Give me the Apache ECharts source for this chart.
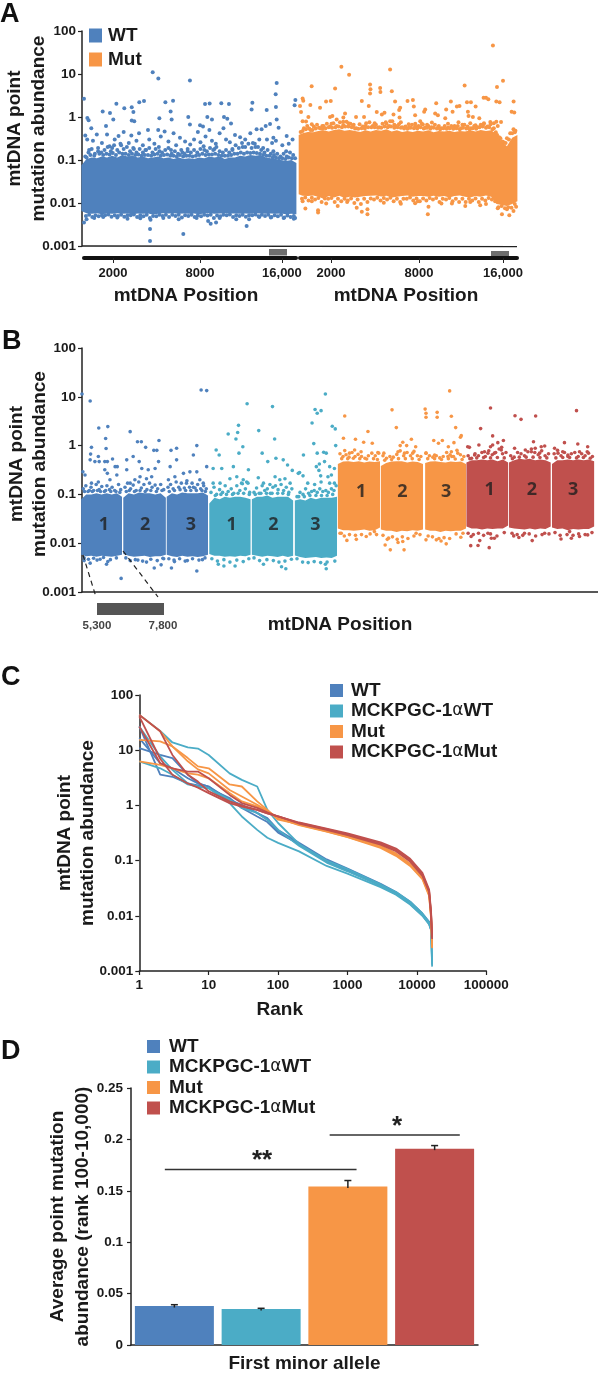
<!DOCTYPE html>
<html><head><meta charset="utf-8">
<style>html,body{margin:0;padding:0;background:#fff}#c{width:598px;height:1374px}</style>
<script src="https://cdn.jsdelivr.net/npm/echarts@6/dist/echarts.min.js"></script>
</head><body><div id="c"></div>
<script>
const BLUE='#4f81bd',CYAN='#4bacc6',ORANGE='#f79646',RED='#c0504d',INK='#1a1a1a';
const WT='WT',MUT='Mut',PWT='MCKPGC-1αWT',PMUT='MCKPGC-1αMut';

// ---- Panel A: dense band envelope (position in kb, abundance)
const aPos=[-.2,.2,.6,1,1.4,1.8,2.2,2.6,3,3.4,3.8,4.2,4.6,5,5.4,5.8,6.2,6.6,7,7.4,7.8,8.2,8.6,9,9.4,9.8,10.2,10.6,11,11.4,11.8,12.2,12.6,13,13.4,13.8,14.2,14.6,15,15.4,15.8,16.2,16.6];
const aPosMut=[-.1,.2,.6,1,1.4,1.8,2.2,2.6,3,3.4,3.8,4.2,4.6,5,5.4,5.8,6.2,6.6,7,7.4,7.8,8.2,8.6,9,9.4,9.8,10.2,10.6,11,11.4,11.8,12.2,12.6,13,13.4,13.8,14.2,14.6,15,15.4,15.8,16.2,16.6];
const aWtTop=[.075,.105,.115,.11,.12,.115,.125,.115,.13,.12,.125,.115,.12,.11,.115,.12,.11,.115,.105,.115,.105,.11,.105,.115,.11,.12,.115,.12,.105,.115,.115,.125,.12,.13,.125,.13,.115,.11,.105,.1,.095,.1,.085];
const aWtBot=[.0065,.0058,.0056,.0058,.0055,.0057,.0056,.0058,.0056,.0057,.0055,.0057,.0056,.0057,.0054,.0056,.0058,.0057,.0058,.0056,.0057,.0056,.0057,.0055,.0057,.0058,.0056,.0057,.0058,.0057,.0057,.0056,.0057,.0056,.0058,.0057,.0056,.0057,.0056,.0057,.0055,.0056,.0055];
const aMutTop=[.38,.42,.45,.44,.47,.49,.46,.5,.52,.48,.5,.47,.45,.49,.46,.5,.48,.52,.46,.49,.45,.47,.45,.48,.46,.49,.44,.47,.46,.48,.45,.47,.46,.49,.46,.5,.47,.49,.4,.27,.21,.33,.38];
const aMutBot=[.016,.0148,.0145,.015,.014,.0125,.0145,.0135,.0148,.013,.014,.0135,.014,.0145,.0148,.015,.0142,.0148,.0135,.014,.0145,.015,.014,.0145,.0145,.014,.0148,.014,.0145,.0135,.0145,.015,.014,.0135,.0145,.014,.015,.014,.0095,.009,.0085,.0095,.011];
// Panel A: individual points
const aWtPts=[[0,2.67],[.26,.95],[.36,.84],[1.46,1.35],[2.03,1.24],[2.53,2.04],[2.29,.87],[3.15,1.6],[3.73,1.68],[3.86,1.3],[4.32,2.2],[4.69,2.35],[5.37,11],[5.81,7.9],[6.36,2.2],[6.96,2.4],[6.77,1.35],[6.85,.88],[5.89,.93],[8.15,1],[8.28,7.1],[9.46,2],[9.82,2.05],[10.73,2.1],[11.33,2],[9.64,1],[10,.87],[10.94,1],[11.2,.91],[11.49,.71],[13.16,2.15],[13.1,1.5],[14.28,1.45],[15.06,6.2],[14.98,3.4],[15,1.7],[15.06,.88],[15.21,.56],[16.52,2.5],[16.46,1.87],[3.73,.83],[3.93,.8],[1.72,.62],[.57,.55],[8.28,.67],[9.07,.64],[13.49,.52],[13.88,.52],[14.2,.62],[14.54,.69],[14.8,.33],[15.84,.36],
[.1,.37],[.25,.3],[.7,.28],[1,.39],[1.4,.25],[1.8,.39],[2,.21],[2.4,.3],[2.7,.36],[3.1,.45],[3.5,.25],[3.7,.37],[4.1,.28],[4.3,.42],[4.6,.22],[5,.5],[5.1,.3],[5.5,.24],[5.8,.5],[6,.35],[6.3,.46],[6.6,.27],[7,.42],[7.2,.22],[7.5,.33],[7.9,.27],[8.3,.23],[8.6,.3],[8.9,.45],[9.1,.26],[9.3,.6],[9.5,.35],[9.8,.5],[10,.28],[10.3,.24],[10.6,.42],[10.9,.55],[11.1,.3],[11.4,.26],[11.8,.38],[12.2,.34],[12.6,.3],[13,.42],[13.2,.25],[13.7,.3],[14.3,.3],[14.7,.25],[15,.28],[15.5,.22],[16,.24],[16.3,.3],
[.4,.17],[1.1,.16],[2.2,.19],[2.9,.22],[3.9,.18],[4.8,.17],[5.9,.16],[6.8,.17],[7.7,.15],[8.1,.16],[9.4,.17],[10.2,.18],[11.6,.17],[12.4,.2],[13.4,.2],[14,.19],[14.8,.16],[15.8,.16],
[0,.0035],[5.16,.0025],[5.16,.0013],[7.76,.0019],[12.71,.0029],[9.9,.0033],[10.32,.0035],
[.2,.0042],[.8,.0045],[1.5,.0047],[2.6,.0046],[3.4,.0043],[4.4,.0044],[5.2,.0041],[6.2,.0045],[7.4,.0042],[8.8,.0045],[9.7,.0038],[10.6,.0045],[11.9,.0042],[12.9,.0042],[13.7,.0047],[14.6,.0046],[15.6,.0045],[16.4,.0043]];
const aWtEdge=[[.1,.12],[.35,.15],[.6,.18],[.85,.14],[1.1,.19],[1.35,.15],[1.6,.17],[1.85,.2],[2.1,.16],[2.35,.22],[2.6,.17],[2.85,.24],[3.1,.18],[3.35,.2],[3.6,.16],[3.85,.19],[4.1,.15],[4.35,.18],[4.6,.15],[4.85,.17],[5.1,.19],[5.35,.15],[5.6,.18],[5.85,.2],[6.1,.15],[6.35,.17],[6.6,.19],[6.85,.14],[7.1,.16],[7.35,.14],[7.6,.17],[7.85,.14],[8.1,.18],[8.35,.15],[8.6,.17],[8.85,.15],[9.1,.18],[9.35,.21],[9.6,.16],[9.85,.19],[10.1,.17],[10.35,.2],[10.6,.16],[10.85,.15],[11.1,.17],[11.35,.15],[11.6,.18],[11.85,.22],[12.1,.19],[12.35,.25],[12.6,.2],[12.85,.24],[13.1,.19],[13.35,.24],[13.6,.2],[13.85,.17],[14.1,.15],[14.35,.17],[14.6,.14],[14.85,.13],[15.1,.14],[15.35,.12],[15.6,.14],[15.85,.12],[16.1,.15],[16.35,.13],[16.5,.11],
[.15,.005],[.65,.0047],[1.15,.0049],[1.65,.0052],[2.15,.0048],[2.65,.005],[3.15,.0048],[3.65,.0052],[4.15,.0047],[4.65,.0049],[5.15,.0045],[5.65,.0049],[6.15,.005],[6.65,.0047],[7.15,.005],[7.65,.0046],[8.15,.005],[8.65,.0047],[9.15,.0049],[9.65,.0051],[10.15,.0045],[10.65,.0049],[11.15,.0052],[11.65,.0047],[12.15,.005],[12.65,.0048],[13.15,.0052],[13.65,.0049],[14.15,.005],[14.65,.0047],[15.15,.0049],[15.65,.0046],[16.15,.0047],[16.5,.0045]];
const aWtEdge2=[[.2,.115],[.5,.13],[.8,.125],[1.2,.14],[1.5,.13],[1.75,.14],[2,.135],[2.25,.145],[2.5,.13],[2.75,.15],[3,.14],[3.25,.14],[3.5,.13],[3.75,.14],[4,.13],[4.25,.135],[4.5,.125],[4.75,.13],[5,.13],[5.25,.125],[5.5,.135],[5.75,.14],[6,.125],[6.25,.13],[6.5,.135],[6.75,.125],[7,.125],[7.25,.12],[7.5,.13],[7.75,.12],[8,.125],[8.25,.125],[8.5,.12],[8.75,.125],[9,.13],[9.25,.14],[9.5,.13],[9.75,.135],[10,.135],[10.25,.14],[10.5,.13],[10.75,.125],[11,.125],[11.25,.125],[11.5,.13],[11.75,.14],[12,.14],[12.25,.15],[12.5,.14],[12.75,.15],[13,.145],[13.25,.15],[13.5,.145],[13.75,.14],[14,.13],[14.25,.125],[14.5,.125],[14.75,.115],[15,.115],[15.25,.11],[15.5,.11],[15.75,.105],[16,.115],[16.25,.11],
[.4,.0053],[.9,.0052],[1.4,.0052],[1.9,.0054],[2.4,.0052],[2.9,.0053],[3.4,.0052],[3.9,.0054],[4.4,.0052],[4.9,.0053],[5.4,.005],[5.9,.0053],[6.4,.0053],[6.9,.0053],[7.4,.0053],[7.9,.0052],[8.4,.0053],[8.9,.0052],[9.4,.0053],[9.9,.0053],[10.4,.0051],[10.9,.0053],[11.4,.0054],[11.9,.0052],[12.4,.0053],[12.9,.0052],[13.4,.0054],[13.9,.0053],[14.4,.0053],[14.9,.0052],[15.4,.0053],[15.9,.0051],[16.4,.005]];
const aMutPts=[[14.73,46],[3.16,14.8],[3.75,9.6],[6.88,12.8],[15.5,7],[.89,5.2],[2.68,4.6],[5.35,5.7],[5.38,4.4],[5.35,3.5],[6.12,4.7],[6.14,3.8],[7.01,3.95],[12.57,5.4],[15.04,5],[.2,2.7],[.25,2.4],[0,1.8],[.79,1.9],[1.53,1.65],[1.99,2.3],[2.35,2.35],[4.72,2.35],[5.25,1.8],[7.26,2.3],[8.21,2.35],[8.62,2.5],[8.69,1.75],[7.65,1.65],[7.57,1.45],[10.4,2.1],[11.52,2.3],[11.16,1.5],[11.65,1.33],[11.98,1.75],[12.18,1.8],[12.75,2.2],[13.05,2.2],[13.41,1.75],[14.02,2.8],[14.2,2.8],[14.38,2.6],[14.99,2.3],[15.24,2.2],[16.31,2.3],[16.16,1.33],[16.36,1.28],[9.56,1.5],[9.48,1.33],[12.82,1.33],[12.87,1.05],[13.2,1],[.08,1.3],[.64,1],[.2,.8],[.46,.79],[2.29,1],[2.47,1.05],[2.8,.88],[3.44,1.2],[3.31,.97],[4.28,1],[4.89,1],[5.86,1.3],[6.25,1.15],[6.45,1.26],[6.88,.8],[7.14,1.15],[7.6,.97],[8.79,1.1],[10.32,1.2],[10.53,1.1],[11.09,.93],[9.18,.8],[9.38,.67],[10.07,.74],[12.1,.76],[13.69,.93],[14.53,.77],[14.99,.78],[15.35,.77],
[.9,.68],[1.7,.62],[2.4,.7],[3.3,.78],[3.7,.72],[4.1,.66],[5,.62],[5.7,.72],[6.6,.7],[7.2,.66],[7.7,.75],[8.3,.68],[8.8,.7],[9.7,.66],[10.6,.62],[11.3,.7],[11.8,.62],[12.4,.66],[13,.72],[13.4,.64],[14,.68],[14.8,.72],[15.1,.62],
[.41,.0074],[1.38,.0068],[1.38,.006],[5.15,.0055],[5.15,.0072],[9.76,.0055],[9.81,.0082],[8.79,.0099],[15.42,.0055],[15.98,.0052],[15.8,.0072],[4.33,.0078],[4.72,.0063],[2.88,.0085],[12.62,.0085],[13.76,.0089],
[.2,.011],[.9,.011],[2,.0098],[3.6,.0105],[6.4,.0102],[7.7,.0096],[9,.011],[10.8,.0098],[11.6,.0098],[13,.0105],[14.2,.0095],[15.1,.0075],[16.3,.0065]];
const aMutEdge=[[.05,.45],[.3,.55],[.55,.62],[.8,.5],[1.05,.6],[1.3,.66],[1.55,.55],[1.8,.62],[2.05,.7],[2.3,.6],[2.55,.72],[2.8,.62],[3.05,.75],[3.3,.65],[3.55,.78],[3.85,.7],[4.05,.62],[4.3,.55],[4.55,.68],[4.8,.6],[5.05,.72],[5.3,.76],[5.55,.62],[5.8,.66],[6.05,.58],[6.3,.7],[6.55,.75],[6.8,.62],[7.05,.8],[7.3,.62],[7.55,.68],[7.8,.58],[8.05,.6],[8.3,.56],[8.55,.66],[8.8,.6],[9.05,.62],[9.3,.7],[9.55,.56],[9.8,.62],[10.05,.58],[10.3,.66],[10.55,.58],[10.8,.55],[11.05,.62],[11.3,.56],[11.55,.62],[11.8,.56],[12.05,.62],[12.3,.55],[12.55,.66],[12.8,.6],[13.05,.55],[13.3,.62],[13.55,.58],[13.8,.66],[14.05,.72],[14.3,.6],[14.55,.68],[14.8,.55],[15.05,.38],[15.3,.32],[15.55,.26],[15.8,.32],[16.05,.42],[16.3,.52],[16.45,.48],
[.15,.0125],[.65,.0115],[1.15,.012],[1.65,.0105],[2.15,.0125],[2.65,.0105],[3.15,.011],[3.65,.0115],[4.15,.01],[4.65,.0095],[5.15,.0105],[5.65,.012],[6.15,.0115],[6.65,.012],[7.15,.011],[7.65,.0105],[8.15,.0125],[8.65,.0115],[9.15,.011],[9.65,.0115],[10.15,.012],[10.65,.0105],[11.15,.012],[11.65,.011],[12.15,.0105],[12.65,.0105],[13.15,.0115],[13.65,.0105],[14.15,.0115],[14.65,.012],[15.15,.008],[15.65,.0075],[16.15,.0078],[16.5,.0082]];
const aMutEdge2=[[.2,.47],[.45,.52],[.7,.54],[.95,.5],[1.2,.54],[1.45,.56],[1.7,.53],[1.95,.55],[2.2,.58],[2.45,.56],[2.7,.58],[2.95,.6],[3.2,.58],[3.45,.6],[3.7,.6],[3.95,.58],[4.2,.54],[4.45,.53],[4.7,.55],[4.95,.54],[5.2,.58],[5.45,.58],[5.7,.58],[5.95,.56],[6.2,.56],[6.45,.6],[6.7,.58],[6.95,.6],[7.2,.56],[7.45,.58],[7.7,.56],[7.95,.54],[8.2,.53],[8.45,.56],[8.7,.55],[8.95,.54],[9.2,.58],[9.45,.54],[9.7,.56],[9.95,.53],[10.2,.56],[10.45,.54],[10.7,.52],[10.95,.55],[11.2,.53],[11.45,.55],[11.7,.53],[11.95,.55],[12.2,.52],[12.45,.56],[12.7,.54],[12.95,.52],[13.2,.55],[13.45,.53],[13.7,.58],[13.95,.6],[14.2,.56],[14.45,.58],[14.7,.52],[14.95,.44],[15.2,.34],[15.45,.27],[15.7,.25],[15.95,.3],[16.2,.42],[16.4,.44],
[.4,.0135],[.9,.0132],[1.4,.013],[1.9,.0128],[2.4,.013],[2.9,.0125],[3.4,.0125],[3.9,.0128],[4.4,.012],[4.9,.0125],[5.4,.0128],[5.9,.0132],[6.4,.013],[6.9,.0132],[7.4,.0125],[7.9,.0125],[8.4,.0135],[8.9,.0128],[9.4,.0128],[9.9,.013],[10.4,.013],[10.9,.0125],[11.4,.013],[11.9,.0125],[12.4,.0125],[12.9,.0125],[13.4,.0128],[13.9,.0125],[14.4,.013],[14.9,.011],[15.4,.0085],[15.9,.008],[16.4,.0095]];
const aTickPos=[2.27,9.07,15.47], aTickPosMut=[2.37,9.09,15.5], aTickLabels=['2000','8000','16,000'];

// ---- Panel B: per-sample band edges and envelopes
const bEdges=[[-.02,.93],[.96,1.95],[1.97,2.93],[2.96,3.92],[3.95,4.91],[4.95,5.93],[5.95,6.93],[6.95,7.93],[7.98,8.93],[8.94,9.91],[9.93,10.9],[10.93,11.91]];
const bWtTop=[[.08,.1,.1,.105,.1,.105,.1,.105,.09],[.085,.105,.1,.11,.105,.105,.1,.105,.085],[.09,.105,.1,.11,.105,.105,.105,.11,.095]];
const bWtBot=[[.0058,.0054,.0055,.0053,.0055,.0054,.0053,.0055,.0058],[.006,.0055,.0053,.0054,.0055,.0052,.0054,.0054,.0058],[.0058,.0054,.0052,.0055,.0053,.0054,.0052,.0054,.0058]];
const bPwtTop=[[.065,.085,.08,.09,.085,.09,.09,.085,.08],[.08,.09,.09,.095,.085,.09,.09,.09,.075],[.075,.08,.075,.085,.08,.085,.085,.085,.09]];
const bPwtBot=[[.006,.0055,.0055,.0053,.0054,.0053,.0055,.0054,.0058],[.0058,.0055,.0053,.0055,.0054,.0052,.0055,.0052,.0055],[.0056,.0052,.005,.0051,.0052,.005,.0051,.005,.0055]];
const bMutTop=[[.42,.47,.48,.46,.48,.45,.47,.46,.48],[.38,.44,.47,.48,.48,.45,.47,.46,.42],[.44,.47,.48,.46,.45,.47,.46,.47,.42]];
const bMutBot=[[.02,.0185,.0185,.018,.0185,.019,.018,.0185,.021],[.019,.018,.018,.017,.018,.0175,.0185,.018,.019],[.019,.018,.018,.017,.018,.0175,.018,.018,.02]];
const bPmutTop=[[.45,.5,.5,.52,.5,.52,.48,.52,.45],[.45,.5,.54,.52,.54,.5,.52,.5,.45],[.42,.5,.5,.52,.5,.52,.5,.52,.48]];
const bPmutBot=[[.022,.02,.02,.019,.02,.0195,.02,.02,.023],[.021,.02,.0195,.019,.02,.019,.02,.0195,.022],[.021,.0195,.02,.0185,.0195,.019,.0195,.0195,.022]];
const bWtPts=[[0,11.4],[.19,8.2],[.39,2.3],[.6,2.45],[.22,.92],[.55,1.4],[.56,.87],[1.12,1.93],[1.29,1.2],[1.38,1.2],[1.48,.92],[1.79,1.27],[1.67,.8],[1.74,.8],[2.07,.8],[2.2,.88],[2.67,1],[2.59,.64],[2.77,13.8],[2.9,13.4],[.91,.0019],[2.67,.0027],[2.08,.0031],[1.68,.0031],[1.84,.0036],[.19,.0039],[.57,.0037],
[.2,.67],[.38,.6],[.19,.51],[.3,.47],[.4,.47],[.53,.47],[.59,.47],[.71,.53],[.82,.37],[.77,.37],[.53,.32],[.59,.27],[.02,.29],[.07,.25],[.22,.17],[.38,.18],[.65,.2],[.81,.25],[1.04,.51],[1.04,.32],[1.19,.6],[1.33,.47],[1.39,.34],[1.54,.32],[1.7,.34],[1.5,.21],[1.35,.23],[1.23,.2],[1.12,.17],[1.62,.23],[1.78,.47],[2.05,.37],[2.2,.51],[2.16,.23],[2.01,.2],[2.36,.27],[2.51,.29],[2.67,.29],[2.9,.37],[2.43,.17],[2.74,.2],[2.59,.14],[2.82,.17],
[.05,.0044],[.35,.0045],[.6,.0042],[1.3,.0045],[1.5,.0041],[1.9,.0048],[2.15,.0042],[2.4,.0043],[2.8,.0046],
[.03,.13],[.09,.15],[.14,.115],[.21,.14],[.27,.12],[.33,.16],[.4,.125],[.46,.145],[.52,.115],[.58,.15],[.64,.125],[.7,.14],[.76,.12],[.85,.16],[.9,.125],
[1,.14],[1.06,.17],[1.13,.13],[1.19,.155],[1.26,.12],[1.32,.18],[1.38,.135],[1.44,.16],[1.51,.125],[1.57,.17],[1.63,.14],[1.7,.155],[1.76,.13],[1.83,.16],[1.9,.125],
[2,.14],[2.06,.16],[2.12,.13],[2.19,.18],[2.25,.14],[2.31,.17],[2.38,.135],[2.44,.19],[2.5,.14],[2.56,.17],[2.63,.135],[2.69,.16],[2.76,.13],[2.83,.15],[2.89,.13],
[.05,.005],[.15,.0047],[.27,.0049],[.42,.0047],[.5,.0051],[.66,.0046],[.8,.005],[1.02,.005],[1.12,.0044],[1.24,.0046],[1.41,.0043],[1.6,.0047],[1.75,.0044],[1.88,.0049],[2.02,.0048],[2.14,.0045],[2.27,.0048],[2.45,.0044],[2.57,.0048],[2.72,.0045],[2.86,.005],
[.06,.115],[.17,.12],[.24,.115],[.36,.12],[.43,.115],[.55,.12],[.67,.115],[.79,.115],[.88,.11],[1.03,.115],[1.1,.12],[1.22,.115],[1.35,.12],[1.47,.115],[1.6,.12],[1.73,.115],[1.86,.12],[2.03,.115],[2.15,.12],[2.28,.125],[2.41,.12],[2.53,.12],[2.66,.12],[2.79,.12],[2.87,.115]];
const bPwtPts=[[3.4,1.73],[3.64,2.6],[3.62,1.85],[3.58,1.37],[3.74,.95],[3.65,.7],[3.84,7.2],[3.12,.81],[3.19,.64],[4.11,2.03],[4.19,.7],[4.43,6.3],[4.48,1.37],[4.32,.47],[4.51,.55],[4.68,.51],[4.78,.4],[5.03,.27],
[5.66,11.4],[5.42,5.5],[5.56,5.2],[5.47,4.6],[5.35,2.9],[5.82,2.5],[5.89,2.2],[5.39,1.1],[5.9,1],[5.47,.7],[5.62,.73],[5.68,.7],[5.15,.64],[5.64,.47],[5.52,.42],[5.45,.37],[5.76,.37],[5.87,.34],[5.51,.31],[5.55,.24],[5.8,.25],[5.72,.23],[5.06,.28],[5.14,.24],[5.25,.17],[5.41,.16],[5.56,.18],[5.76,.17],[5.87,.17],[5.66,.0037],[5.68,.003],[3.17,.0037],[3.3,.0034],[3.56,.0034],[4.22,.0037],[4.64,.0033],[4.74,.003],
[3.05,.34],[3.25,.34],[3.52,.37],[3.87,.32],[3.75,.2],[3.83,.18],[3.71,.17],[3.44,.21],[3.21,.17],[3.05,.17],[3.6,.23],[4.1,.22],[4.22,.17],[4.49,.23],[4.6,.2],[4.72,.21],[4.89,.31],[4.84,.17],[4.37,.16],
[3,.11],[3.07,.14],[3.13,.1],[3.2,.125],[3.27,.11],[3.33,.15],[3.4,.115],[3.47,.13],[3.53,.105],[3.6,.15],[3.67,.12],[3.73,.165],[3.8,.13],[3.86,.17],[3.9,.11],
[4,.11],[4.06,.135],[4.12,.105],[4.19,.15],[4.25,.12],[4.31,.13],[4.38,.105],[4.44,.14],[4.5,.15],[4.56,.125],[4.63,.16],[4.69,.12],[4.75,.14],[4.81,.11],[4.88,.13],
[5,.09],[5.07,.11],[5.14,.1],[5.2,.13],[5.27,.105],[5.34,.115],[5.4,.12],[5.47,.11],[5.53,.13],[5.6,.115],[5.67,.12],[5.73,.11],[5.8,.13],[5.86,.12],[5.91,.15],
[3.02,.0048],[3.15,.0043],[3.3,.0046],[3.44,.0041],[3.6,.0045],[3.75,.0042],[3.88,.0048],[4,.005],[4.13,.0044],[4.3,.0046],[4.45,.0044],[4.58,.0041],[4.72,.0043],[4.87,.0047],[5,.0048],[5.13,.0041],[5.26,.004],[5.4,.0042],[5.55,.004],[5.7,.0041],[5.88,.0043],
[3.1,.095],[3.23,.1],[3.36,.1],[3.5,.1],[3.63,.105],[3.76,.105],[3.89,.1],[4.03,.1],[4.16,.105],[4.29,.105],[4.42,.105],[4.55,.105],[4.67,.105],[4.8,.1],[5.04,.09],[5.17,.09],[5.3,.095],[5.44,.095],[5.57,.095],[5.7,.095],[5.83,.1]];
const bMutPts=[[6.11,4.05],[6.65,1.94],[6.08,1.41],[6.36,1.35],[6.55,1.17],[6.75,1.12],[7.21,5.4],[7.31,2.34],[7.46,1.17],[7.66,1.35],[7.4,1],[7.55,1],[7.76,.95],[7.98,5.6],[8.26,4.8],[8,4.6],[8,3.8],[8.26,3.8],[8.55,13.2],[8.59,4],[8.69,2.34],[8.18,1.27],[8.38,1.27],[8.29,1.12],[8.82,1.6],[8.8,1.48],[8.65,1.15],[8.52,.95],[6.11,.79],[6.22,.7],[6.34,.81],[6.49,.75],[6.88,.72],[7.02,.7],[7.35,.75],[7.5,.7],[7.69,.7],[8,.7],[8.2,.64],[8.59,.75],[8.74,.7],[8.51,.6],[8.6,.6],
[6.16,.0114],[6.38,.012],[6.61,.0137],[7.05,.0092],[7.17,.0073],[7.49,.0073],[7.35,.0103],[7.46,.0108],[7.13,.0127],[8,.0117],[8.24,.0117],[8.47,.0097],[8.35,.0111],[8.81,.0132],[6.03,.016],[6.8,.0173],[7.77,.016],
[6,.68],[6.07,.6],[6.14,.65],[6.21,.58],[6.28,.72],[6.35,.6],[6.42,.66],[6.5,.6],[6.58,.55],[6.66,.62],[6.74,.7],[6.82,.62],[6.9,.7],
[7,.62],[7.08,.55],[7.16,.6],[7.24,.58],[7.32,.66],[7.4,.78],[7.48,.62],[7.56,.72],[7.64,.62],[7.72,.76],[7.8,.62],[7.88,.6],
[8,.7],[8.08,.62],[8.16,.58],[8.24,.62],[8.32,.56],[8.4,.6],[8.48,.72],[8.56,.65],[8.64,.6],[8.72,.8],[8.8,.65],[8.88,.6],
[6,.016],[6.1,.014],[6.22,.015],[6.36,.0145],[6.5,.015],[6.7,.0155],[6.85,.015],[7,.0145],[7.1,.012],[7.22,.0135],[7.33,.012],[7.45,.0135],[7.58,.0125],[7.72,.014],[7.86,.015],[8.05,.014],[8.15,.0135],[8.3,.0125],[8.42,.013],[8.55,.0125],[8.7,.0155],[8.86,.016],
[6.04,.54],[6.18,.54],[6.31,.55],[6.46,.54],[6.62,.53],[6.78,.54],[6.87,.52],[7.04,.5],[7.2,.52],[7.36,.54],[7.52,.54],[7.68,.54],[7.84,.52],[8.04,.54],[8.2,.54],[8.36,.52],[8.52,.54],[8.68,.53],[8.84,.52]];
const bPmutPts=[[9.5,5.9],[10.07,4.1],[10.21,3.45],[10.55,4.05],[11.5,5.2],[9.27,2.23],[9.55,1.58],[8.97,.95],[9.01,.92],[9.23,1.03],[9.8,1.27],[9.67,1.15],[9.76,.92],[9.5,.95],[9.55,1.03],[10.5,1.2],[10.06,.88],[10.31,.81],[10.54,.88],[10.68,.95],[10.76,.98],[10.99,.88],[11.22,1.15],[11.53,1.08],[11.76,.95],[11.18,.75],[11.75,.75],[9.36,.75],[9.44,.7],[9.75,.81],[9.13,.64],[9.59,.7],[10.45,.75],[10.64,.7],[11.57,.75],[11.07,.7],[11.3,.64],
[9.04,.0089],[9.21,.009],[9.47,.0081],[9.25,.0113],[9.52,.0126],[9.59,.0126],[10.04,.0141],[10.16,.0131],[10.47,.0113],[11.14,.0122],[11.38,.0126],[11.34,.0173],[11.57,.0137],[11.76,.0148],[9.05,.0137],[9.44,.016],[10.29,.016],[10.76,.016],
[8.98,.62],[9.06,.55],[9.14,.68],[9.22,.62],[9.3,.72],[9.38,.6],[9.46,.78],[9.54,.65],[9.62,.72],[9.7,.85],[9.78,.68],[9.86,.72],
[9.97,.62],[10.05,.58],[10.13,.72],[10.21,.68],[10.29,.62],[10.37,.75],[10.45,.85],[10.53,.72],[10.61,.65],[10.69,.78],[10.77,.62],[10.85,.68],
[10.98,.68],[11.06,.8],[11.14,.62],[11.22,.72],[11.3,.6],[11.38,.68],[11.46,.72],[11.54,.6],[11.62,.68],[11.7,.62],[11.78,.7],[11.87,.6],
[8.98,.016],[9.1,.015],[9.22,.016],[9.34,.0145],[9.5,.0155],[9.65,.014],[9.82,.0165],[10,.016],[10.12,.015],[10.25,.0145],[10.4,.0155],[10.55,.014],[10.7,.015],[10.86,.0155],[11,.0165],[11.12,.0145],[11.28,.015],[11.42,.0145],[11.55,.0155],[11.7,.015],[11.86,.0165],
[9.02,.54],[9.18,.56],[9.34,.57],[9.5,.56],[9.66,.57],[9.82,.56],[10.01,.54],[10.17,.58],[10.33,.58],[10.49,.58],[10.65,.57],[10.81,.56],[11.02,.56],[11.18,.57],[11.34,.57],[11.5,.56],[11.66,.57],[11.82,.55]];
const bReplicates=[[.51,.0237,'1'],[1.47,.0237,'2'],[2.53,.0237,'3'],[3.48,.0237,'1'],[4.45,.0237,'2'],[5.43,.0237,'3'],[6.49,.114,'1'],[7.45,.114,'2'],[8.47,.114,'3'],[9.48,.123,'1'],[10.46,.123,'2'],[11.42,.123,'3']];

// ---- Panel C: ranked abundance, 3 replicates per genotype
const cRanks=[1,2,3,5,7,10,20,30,50,70,100,200,500,1000,3000,5000,8000,12000,15000,16000,16569];
const cWt1=[10.9,8.2,7.2,3.6,2.5,2.2,1.18,1.03,.73,.59,.36,.21,.105,.072,.038,.027,.018,.011,.0078,.0062,.004];
const cWt2=[26.9,3.6,3.3,2.5,2.3,2.05,1.36,.9,.63,.5,.32,.2,.1,.069,.036,.026,.017,.0105,.0074,.0058,.0035];
const cWt3=[16.5,5.8,4.7,3.1,2.5,2.2,1.27,1,.73,.55,.34,.195,.095,.066,.035,.025,.0165,.0102,.0072,.0056,.003];
const cPwt1=[43.6,22.4,13.8,11.3,10.7,8.2,3.8,2.9,2.2,.83,.48,.2,.1,.07,.037,.027,.018,.011,.0076,.006,.0015];
const cPwt2=[6.3,4.7,3.6,2.4,2.2,2.05,1.1,.63,.36,.26,.21,.147,.08,.058,.033,.024,.016,.01,.007,.0055,.0012];
const cPwt3=[26.9,7.7,4.4,2.5,2.2,2.05,1.27,.9,.73,.55,.36,.185,.092,.064,.035,.025,.0168,.0105,.0073,.0057,.0013];
const cMut1=[15.4,14.4,11.7,7.2,5.1,4.7,2.4,2.2,1.18,.83,.55,.46,.35,.28,.185,.135,.088,.05,.025,.01,.0028];
const cMut2=[6.3,5.4,4.7,3.8,3.6,3.1,1.67,1.18,.96,.78,.59,.44,.335,.265,.17,.122,.08,.046,.023,.009,.0026];
const cMut3=[43.6,22,11.7,6.3,4.5,3.8,1.9,1.45,1.03,.8,.59,.45,.34,.27,.178,.128,.084,.048,.024,.0095,.0027];
const cPmut1=[43.6,22,8.2,3.6,2.7,1.8,1.18,1,.83,.72,.63,.49,.38,.31,.215,.165,.108,.06,.03,.012,.0042];
const cPmut2=[26.9,5.8,4.7,4.1,4.1,3.1,1.55,1.1,.9,.75,.63,.48,.37,.3,.205,.155,.102,.056,.028,.011,.004];
const cPmut3=[41,7,3.6,2.5,2.1,1.67,1.1,.95,.83,.72,.63,.47,.36,.29,.195,.148,.096,.053,.027,.0105,.0038];

// ---- Panel D
const dGroups=[WT,PWT,MUT,PMUT];
const dMeans=[.0379,.035,.1543,.191];
const dErrTop=[.0392,.0357,.16,.194];
const dPositions=[.5,1.5,2.5,3.5];
const dSig1=[[.39,.1706],[2.6,.1706]], dSig2=[[2.29,.2043],[3.79,.2043]];

const FONT='"Liberation Sans",Arial,sans-serif';
const tick={fontFamily:FONT,fontWeight:'bold',fontSize:13.5,color:INK};
const nameSt=(s,extra)=>Object.assign({fontFamily:FONT,fontWeight:'bold',fontSize:s,color:INK,lineHeight:24},extra||{});
const line={show:true,onZero:false,lineStyle:{color:'#222',width:1.5}};
const plain=v=>String(v);

function band(name,color,xi,xs,tops,bots){
  return {type:'custom',name,coordinateSystem:'cartesian2d',xAxisIndex:xi,yAxisIndex:xi,silent:true,clip:false,z:2,
    itemStyle:{color},data:[[xs[0],tops[0]]],
    renderItem(p,api){
      const up=xs.map((x,i)=>api.coord([x,tops[i]]));
      const dn=xs.map((x,i)=>api.coord([x,bots[i]])).reverse();
      return {type:'polygon',shape:{points:up.concat(dn)},style:{fill:color}};
    }};
}
function pts(name,color,xi,data,size){
  return {type:'scatter',name,xAxisIndex:xi,yAxisIndex:xi,data,symbolSize:size,silent:true,clip:false,z:3,itemStyle:{color,opacity:1}};
}
const bandFrac=[0,.125,.25,.375,.5,.625,.75,.875,1];
function bBands(name,color,first,tops,bots){
  return tops.map((t,k)=>{const e=bEdges[first+k];
    return band(name,color,2,bandFrac.map(f=>e[0]+f*(e[1]-e[0])),t,bots[k]);});
}
function cLine(name,color,vals){
  return {type:'line',name,xAxisIndex:3,yAxisIndex:3,showSymbol:false,symbol:'none',silent:true,z:3,
    data:cRanks.map((r,i)=>[r,vals[i]]),lineStyle:{color,width:1.8},itemStyle:{color}};
}
const logY=(i,show,extra)=>Object.assign({type:'log',logBase:10,min:.001,max:100,gridIndex:i,show,
  splitLine:{show:false},axisLine:line,axisTick:{show:true,length:4,lineStyle:{color:'#222',width:1.2}},
  axisLabel:Object.assign({margin:6,formatter:plain},tick)},extra||{});

const legendRich={b:{fontFamily:FONT,fontWeight:'bold',fontSize:19,color:INK,lineHeight:13},a:{fontFamily:'"DejaVu Sans"',fontWeight:'normal',fontSize:17,color:INK,lineHeight:13}};
const legendFmt=(n)=>n.includes('α')?n.split('α').map(s=>'{b|'+s+'}').join('{a|α}'):'{b|'+n+'}';
const legend4=(left,top,pad)=>({left,top,padding:0,orient:'vertical',itemWidth:13,itemHeight:13,itemGap:1.5,icon:'rect',selectedMode:false,
  data:dGroups,formatter:legendFmt,textStyle:{padding:[0,0,0,pad],rich:legendRich}});
const G=(left,top,width,height)=>({left,top,width,height,outerBoundsMode:'none',containLabel:false});

const option={
  animation:false,backgroundColor:'#fff',
  legend:[
    {left:89,top:26,padding:0,orient:'vertical',itemWidth:13,itemHeight:14,itemGap:5,icon:'rect',selectedMode:false,data:[WT,MUT],formatter:legendFmt,textStyle:{padding:[0,0,0,1],rich:legendRich}},
    legend4(330,681,3),legend4(147,1037,4)
  ],
  grid:[G(84,31,212,215),G(300,31,217,215),G(82,348,516,244),G(139.3,695,347,276),G(131,1088,347,257)],
  xAxis:[
    {type:'value',gridIndex:0,min:0,max:16.569,offset:12,splitLine:{show:false},
      axisLine:{show:true,onZero:false,lineStyle:{color:'#111',width:4}},
      axisTick:{show:true,length:5,customValues:aTickPos,lineStyle:{color:'#222',width:1}},
      axisLabel:Object.assign({customValues:aTickPos,margin:9,formatter:v=>aTickLabels[aTickPos.indexOf(v)]},tick,{fontSize:13}),
      name:'mtDNA Position',nameLocation:'middle',nameGap:26,nameMoveOverlap:false,nameTextStyle:nameSt(19,{padding:[0,8,0,0]})},
    {type:'value',gridIndex:1,min:0,max:16.569,offset:12,splitLine:{show:false},
      axisLine:{show:true,onZero:false,lineStyle:{color:'#111',width:4}},
      axisTick:{show:true,length:5,customValues:aTickPosMut,lineStyle:{color:'#222',width:1}},
      axisLabel:Object.assign({customValues:aTickPosMut,margin:9,formatter:v=>aTickLabels[aTickPosMut.indexOf(v)]},tick,{fontSize:13}),
      name:'mtDNA Position',nameLocation:'middle',nameGap:26,nameMoveOverlap:false,nameTextStyle:nameSt(19,{padding:[0,5,0,0]})},
    {type:'value',gridIndex:2,min:0,max:12,splitLine:{show:false},axisLine:line,axisTick:{show:false},axisLabel:{show:false},
      name:'mtDNA Position',nameLocation:'middle',nameGap:21,nameMoveOverlap:false,nameTextStyle:nameSt(19)},
    {type:'log',logBase:10,gridIndex:3,min:1,max:100000,splitLine:{show:false},axisLine:line,axisTick:{show:true,length:4,lineStyle:{color:'#222',width:1.2}},
      axisLabel:Object.assign({margin:7,formatter:plain},tick),
      name:'Rank',nameLocation:'middle',nameGap:27,nameMoveOverlap:false,nameTextStyle:nameSt(19,{padding:[0,66,0,0]})},
    {type:'category',gridIndex:4,data:['First minor allele'],axisLine:line,axisTick:{show:false},
      axisLabel:Object.assign({},tick,{fontSize:19,margin:9})},
    {type:'value',gridIndex:4,min:0,max:4,show:false}
  ],
  yAxis:[
    logY(0,true,{offset:2,name:'mtDNA point\nmutation abundance',nameLocation:'middle',nameGap:31,nameMoveOverlap:false,nameTextStyle:nameSt(19,{padding:[0,0,0,20]})}),
    logY(1,false),
    logY(2,true,{name:'mtDNA point\nmutation abundance',nameLocation:'middle',nameGap:31,nameMoveOverlap:false,nameTextStyle:nameSt(19,{padding:[0,0,0,12],lineHeight:23})}),
    logY(3,true,{name:'mtDNA point\nmutation abundance',nameLocation:'middle',nameGap:40,nameMoveOverlap:false,nameTextStyle:nameSt(19,{lineHeight:23})}),
    {type:'value',gridIndex:4,min:0,max:.25,interval:.05,splitLine:{show:false},axisLine:line,
      axisTick:{show:true,length:4,lineStyle:{color:'#222',width:1.2}},axisLabel:Object.assign({margin:8},tick),
      name:'Average point mutation\nabundance (rank 100-10,000)',nameLocation:'middle',nameGap:36,nameMoveOverlap:false,nameTextStyle:nameSt(19,{lineHeight:25})}
  ],
  series:[
    band(WT,BLUE,0,aPos,aWtTop,aWtBot),
    pts(WT,BLUE,0,aWtPts,4),pts(WT,BLUE,0,aWtEdge,4),pts(WT,BLUE,0,aWtEdge2,4),
    band(MUT,ORANGE,1,aPosMut,aMutTop,aMutBot),
    pts(MUT,ORANGE,1,aMutPts,4),pts(MUT,ORANGE,1,aMutEdge,4),pts(MUT,ORANGE,1,aMutEdge2,4),
    ...bBands(WT,BLUE,0,bWtTop,bWtBot),
    ...bBands(PWT,CYAN,3,bPwtTop,bPwtBot),
    ...bBands(MUT,ORANGE,6,bMutTop,bMutBot),
    ...bBands(PMUT,RED,9,bPmutTop,bPmutBot),
    pts(WT,BLUE,2,bWtPts,3.6),pts(PWT,CYAN,2,bPwtPts,3.6),pts(MUT,ORANGE,2,bMutPts,3.6),pts(PMUT,RED,2,bPmutPts,3.6),
    {type:'scatter',name:'replicate',xAxisIndex:2,yAxisIndex:2,symbolSize:0,silent:true,z:6,data:bReplicates,
      label:{show:true,position:'inside',formatter:p=>p.value[2],fontFamily:'"Open Sans"',fontWeight:'bold',fontSize:18,color:'#1e1e1e'}},
    cLine(WT,BLUE,cWt1),cLine(WT,BLUE,cWt2),cLine(WT,BLUE,cWt3),
    cLine(PWT,CYAN,cPwt1),cLine(PWT,CYAN,cPwt2),cLine(PWT,CYAN,cPwt3),
    cLine(MUT,ORANGE,cMut1),cLine(MUT,ORANGE,cMut2),cLine(MUT,ORANGE,cMut3),
    cLine(PMUT,RED,cPmut1),cLine(PMUT,RED,cPmut2),cLine(PMUT,RED,cPmut3),
    ...dGroups.map((g,i)=>({type:'bar',name:g,xAxisIndex:4,yAxisIndex:4,barWidth:79,barGap:'9.8%',silent:true,
      itemStyle:{color:[BLUE,CYAN,ORANGE,RED][i]},data:[dMeans[i]]})),
    {type:'custom',name:'error',coordinateSystem:'cartesian2d',xAxisIndex:5,yAxisIndex:4,silent:true,z:5,
      data:dPositions.map((x,i)=>[x,dMeans[i],dErrTop[i]]),
      renderItem(p,api){
        const a=api.coord([api.value(0),api.value(1)]),b=api.coord([api.value(0),api.value(2)]);
        const st={stroke:'#222',lineWidth:1.5,fill:null};
        return {type:'group',children:[
          {type:'line',shape:{x1:a[0],y1:a[1]+1.5,x2:b[0],y2:b[1]},style:st},
          {type:'line',shape:{x1:b[0]-3.5,y1:b[1],x2:b[0]+3.5,y2:b[1]},style:st}]};
      }},
    {type:'line',name:'sig1',xAxisIndex:5,yAxisIndex:4,data:dSig1,symbol:'none',silent:true,z:5,lineStyle:{color:'#333',width:1.5}},
    {type:'line',name:'sig2',xAxisIndex:5,yAxisIndex:4,data:dSig2,symbol:'none',silent:true,z:5,lineStyle:{color:'#333',width:1.5}}
  ],
  graphic:[
    {type:'text',left:0,top:1,style:{text:'A',font:'bold 27px '+FONT,fill:'#111'}},
    {type:'text',left:2,top:328,style:{text:'B',font:'bold 27px '+FONT,fill:'#111'}},
    {type:'text',left:1,top:664,style:{text:'C',font:'bold 27px '+FONT,fill:'#111'}},
    {type:'text',left:1,top:1038,style:{text:'D',font:'bold 27px '+FONT,fill:'#111'}},
    {type:'line',shape:{x1:82,y1:246,x2:517,y2:246.6},style:{stroke:'#222',lineWidth:1.3},z:4},
    {type:'rect',shape:{x:269,y:249,width:18,height:6.5},style:{fill:'#6e6e6e'}},
    {type:'rect',shape:{x:491,y:251,width:18,height:6.5},style:{fill:'#6e6e6e'}},
    {type:'rect',shape:{x:97,y:603,width:67,height:12},style:{fill:'#555'}},
    {type:'line',shape:{x1:83,y1:555,x2:96,y2:597},style:{stroke:'#222',lineWidth:1.2,lineDash:[5,4]},z:6},
    {type:'line',shape:{x1:123,y1:551,x2:158,y2:597},style:{stroke:'#222',lineWidth:1.2,lineDash:[5,4]},z:6},
    {type:'text',x:97,y:626,style:{text:'5,300',font:'bold 11.5px '+FONT,fill:'#444',align:'center',verticalAlign:'middle'}},
    {type:'text',x:163,y:626,style:{text:'7,800',font:'bold 11.5px '+FONT,fill:'#444',align:'center',verticalAlign:'middle'}},
    {type:'text',x:262,y:1161,style:{text:'**',font:'bold 26px '+FONT,fill:'#222',align:'center',verticalAlign:'middle'}},
    {type:'text',x:397,y:1127,style:{text:'*',font:'bold 26px '+FONT,fill:'#222',align:'center',verticalAlign:'middle'}}
  ]
};
echarts.init(document.getElementById('c'),null,{renderer:'canvas'}).setOption(option);
</script></body></html>
